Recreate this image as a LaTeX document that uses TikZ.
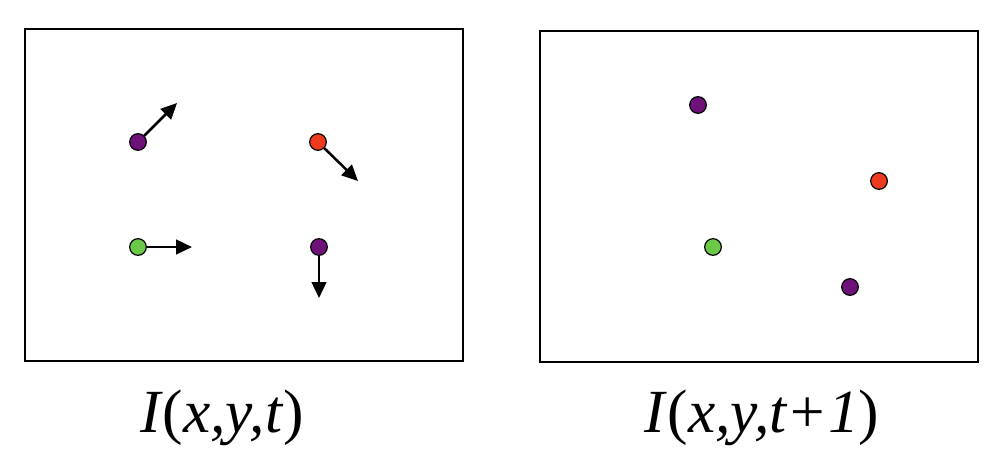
\documentclass[tikz,border=0pt]{standalone}
\usepackage{fontspec}
\setmainfont{Liberation Serif}
\usetikzlibrary{arrows.meta}
\definecolor{dpurple}{RGB}{110,18,122}
\definecolor{dred}{RGB}{238,58,30}
\definecolor{dgreen}{RGB}{108,200,72}
\tikzset{
  frame/.style={draw=black, line width=1.1pt},
  dot/.style={circle, draw=black, line width=0.9pt, minimum size=12.5pt, inner sep=0pt},
  mv/.style={line width=1.9pt, -{Triangle[length=12pt,width=11pt]}},
  lbl/.style={font=\fontsize{46}{50}\selectfont\itshape, anchor=base}
}
\newcommand{\lp}{\textup{(}}
\newcommand{\rp}{\textup{)}}
\begin{document}
\begin{tikzpicture}[x=0.75pt,y=-0.75pt]
\useasboundingbox (0,0) rectangle (1006,464);
\draw[frame] (25,29) rectangle (463,361);
\draw[frame] (540,31) rectangle (978,362);
% left frame
\node[dot, fill=dpurple] (p1) at (138,142) {};
\node[dot, fill=dred] (r1) at (318,142) {};
\node[dot, fill=dgreen] (g1) at (138,247) {};
\node[dot, fill=dpurple] (q1) at (319,247) {};
\coordinate (p1e) at (177,103);
\coordinate (r1e) at (358,181);
\coordinate (g1e) at (192,247);
\coordinate (q1e) at (319,298);
\draw[mv] (p1) -- (p1e);
\draw[mv] (r1) -- (r1e);
\draw[mv] (g1) -- (g1e);
\draw[mv] (q1) -- (q1e);
% right frame
\node[dot, fill=dpurple] (p2) at (698,105) {};
\node[dot, fill=dred] (r2) at (879,181) {};
\node[dot, fill=dgreen] (g2) at (713,247) {};
\node[dot, fill=dpurple] (q2) at (850,287) {};
% labels
\node[lbl] (l1) at (222,432) {I\lp x,y,t\rp};
\node[lbl] (l2) at (762,432) {I\lp x,y,t+1\rp};
\end{tikzpicture}
\end{document}
